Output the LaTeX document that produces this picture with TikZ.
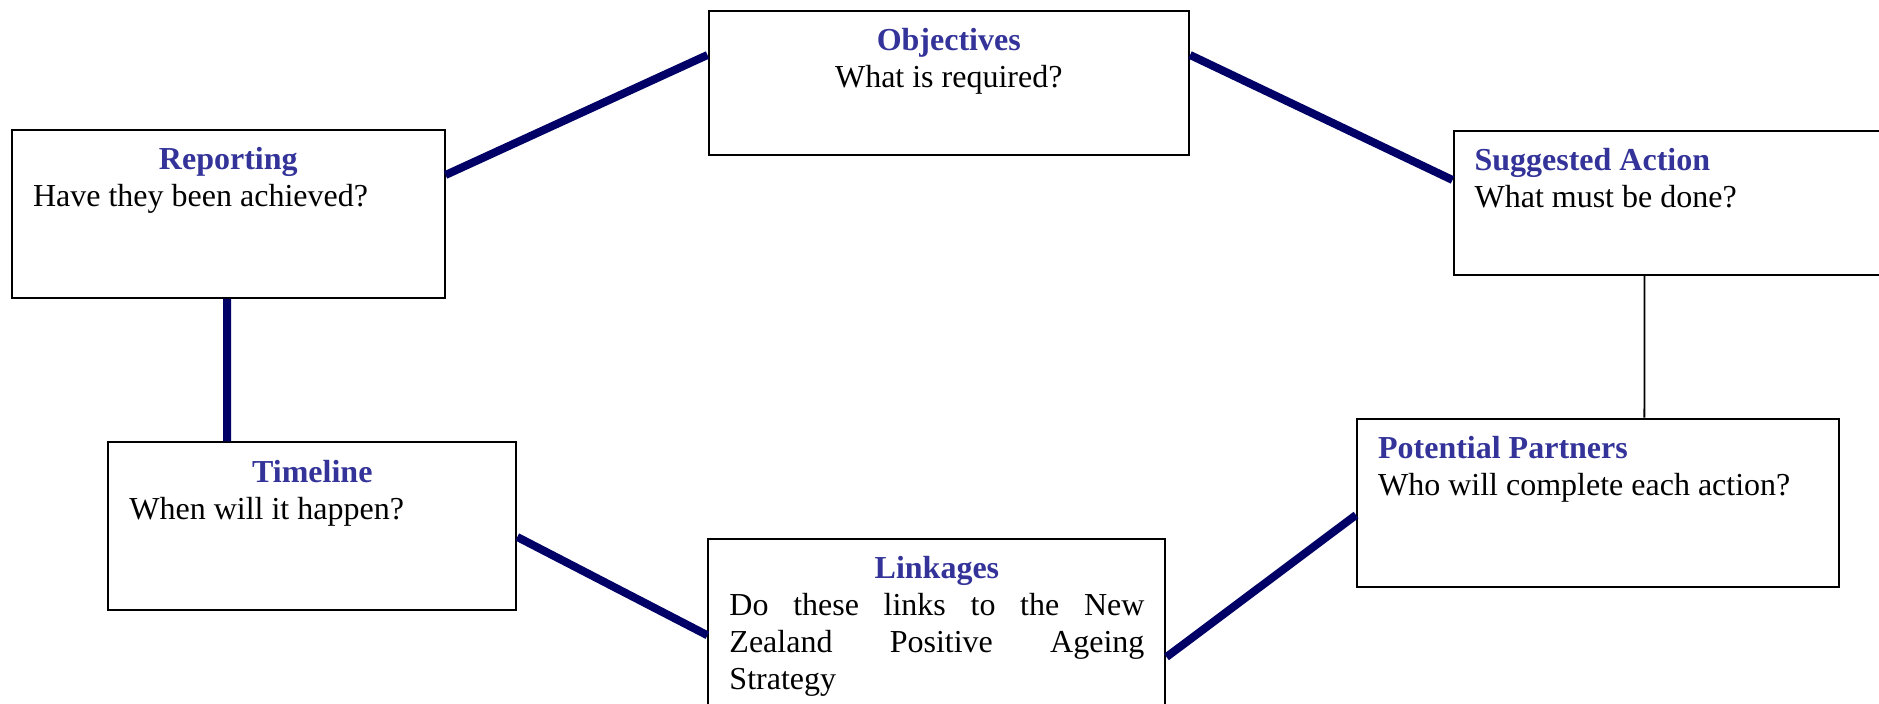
\documentclass[tikz,border=0pt]{standalone}
\usepackage{fontspec}
\setmainfont{Liberation Serif}
\usetikzlibrary{calc}
\usetikzlibrary{positioning}

\definecolor{headblue}{RGB}{51,51,153}
\definecolor{linknavy}{RGB}{0,0,102}

\begin{document}
\begin{tikzpicture}[x=0.375pt,y=-0.375pt,
    card/.style={draw=black,line width=0.75pt,anchor=north west,inner xsep=7.9pt,inner ysep=0pt,
        font=\fontsize{12}{13.8}\selectfont},
    bond/.style={draw=linknavy,line width=3pt},
    thinbond/.style={draw=black,line width=0.7pt}]
                \path[use as bounding box] (0,0) rectangle (1879,704);
                \clip (0,0) rectangle (1879,704);

                \node[card] (obj) at (707.5,10) {\parbox[t][54pt][t]{164.4pt}{\centering\rule{0pt}{15pt}\textcolor{headblue}{\textbf{Objectives}}\\What is required?}};
                \node[card] (rep) at (11,129) {\parbox[t][63pt][t]{146.4pt}{{\centering\rule{0pt}{15pt}\textcolor{headblue}{\textbf{Reporting}}\par}Have they been achieved?}};
                \node[card] (sug) at (1452.5,130) {\parbox[t][54pt][t]{164.2pt}{\rule{0pt}{15pt}\textcolor{headblue}{\textbf{Suggested Action}}\\What must be done?}};
                \node[card] (pp) at (1356,417.7) {\parbox[t][63pt][t]{164.8pt}{\rule{0pt}{15pt}\textcolor{headblue}{\textbf{Potential Partners}}\\Who will complete each action?}};
                \node[card] (tl) at (107.3,441.3) {\parbox[t][63pt][t]{137.2pt}{{\centering\rule{0pt}{15pt}\textcolor{headblue}{\textbf{Timeline}}\par}When will it happen?}};
                \node[card] (lnk) at (707.4,537.7) {\parbox[t][63pt][t]{155.6pt}{{\centering\rule{0pt}{15pt}\textcolor{headblue}{\textbf{Linkages}}\par}Do these links to the New\linebreak Zealand Positive Ageing\linebreak Strategy}};

                \draw[bond] ($(rep.north east)+(0,46)$) -- ($(obj.north west)+(0,45)$);
                \draw[bond] ($(obj.north east)+(0,45)$) -- ($(sug.north west)+(0,50)$);
                \draw[thinbond] ($(sug.south west)+(192,0)$) -- ($(pp.north west)+(288.4,0)$);
                \draw[bond] ($(pp.north west)+(0,97.3)$) -- ($(lnk.north east)+(0,119.3)$);
                \draw[bond] ($(tl.north east)+(0,95.7)$) -- ($(lnk.north west)+(0,97.6)$);
                \draw[bond] ($(rep.south west)+(216,0)$) -- ($(tl.north west)+(119.7,0)$);
            \end{tikzpicture}
\end{document}
